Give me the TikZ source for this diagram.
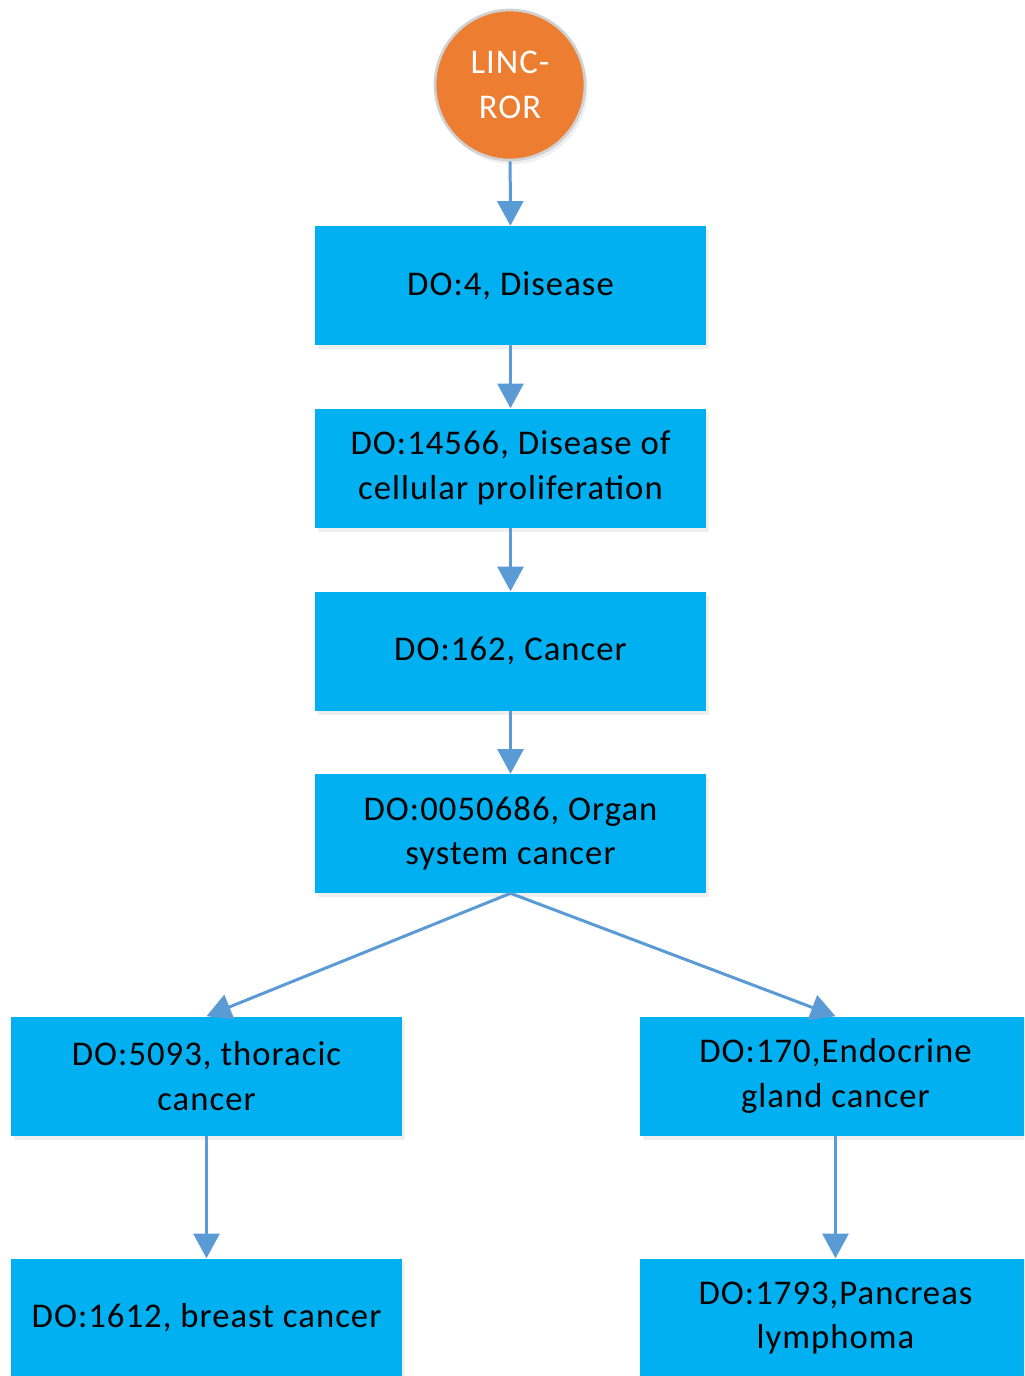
\documentclass[tikz,border=0pt]{standalone}
\usepackage{fontspec}
\setmainfont{Carlito}[LetterSpace=3]
\usetikzlibrary{arrows.meta,shadows}
\definecolor{boxblue}{HTML}{00B0F0}
\definecolor{arrblue}{HTML}{5B9BD5}
\definecolor{orng}{HTML}{ED7D31}
\begin{document}
\begin{tikzpicture}[x=0.75pt,y=-0.75pt,
  dobox/.style={rectangle, fill=boxblue, minimum width=293.25pt, minimum height=89.25pt,
    inner sep=0pt, align=center, text=black, font=\fontsize{26}{33.5}\selectfont,
    drop shadow={opacity=0.12, shadow xshift=2pt, shadow yshift=-3pt}},
  lnc/.style={circle, fill=orng, draw=black!18, line width=2pt, minimum size=112.5pt,
    inner sep=0pt, align=center, text=white, font=\fontsize{26}{33.5}\selectfont,
    drop shadow={opacity=0.12, shadow xshift=2pt, shadow yshift=-3pt}},
  arr/.style={draw=arrblue, line width=2.25pt, -{Triangle[width=19.5pt,length=18.5pt]}}]
\useasboundingbox (0,0) rectangle (1024,1376);
\clip (0,0) rectangle (1024,1376);
\fill[white] (0,0) rectangle (1024,1376);
\node[lnc] (c) at (510,85) {LINC-\\ROR};
\node[dobox] (b1) at (510.5,285.5) {DO:4, Disease};
\node[dobox] (b2) at (510.5,468) {DO:14566, Disease of\\cellular proliferation};
\node[dobox] (b3) at (510.5,651) {DO:162, Cancer};
\node[dobox] (b4) at (510.5,833.5) {DO:0050686, Organ\\system cancer};
\node[dobox] (b5) at (206.5,1076) {DO:5093, thoracic\\cancer};
\node[dobox] (b6) at (835.5,1076) {DO:170,Endocrine\\gland cancer};
\node[dobox] (b7) at (206.5,1318) {DO:1612, breast cancer};
\node[dobox] (b8) at (835.5,1318) {DO:1793,Pancreas\\lymphoma};
\draw[arr] (c) -- (b1);
\draw[arr] (b1) -- (b2);
\draw[arr] (b2) -- (b3);
\draw[arr] (b3) -- (b4);
\draw[arr] (b4.south) -- (b5.north);
\draw[arr] (b4.south) -- (b6.north);
\draw[arr] (b5) -- (b7);
\draw[arr] (b6) -- (b8);
\end{tikzpicture}
\end{document}
